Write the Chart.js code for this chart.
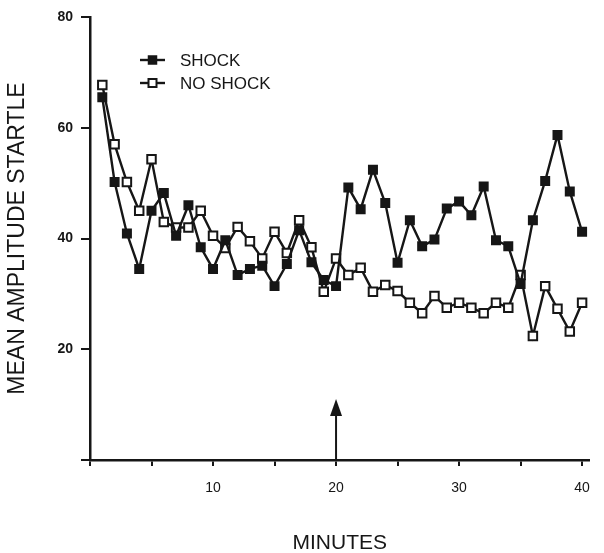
<!DOCTYPE html>
<html lang="en">
  <head>
    <meta charset="UTF-8" />
    <meta name="viewport" content="width=device-width, initial-scale=1.0" />
    <title>Mean amplitude startle by minute</title>
    <script src="https://cdn.jsdelivr.net/npm/chart.js@4"></script>
    <style>
      body { margin: 0; background: #fff; }
    </style>
  </head>
  <body>
    <canvas id="myChart" width="604" height="553"></canvas>

    <script>
      // values
      const minutes = [1, 2, 3, 4, 5, 6, 7, 8, 9, 10, 11, 12, 13, 14, 15, 16, 17, 18, 19, 20,
        21, 22, 23, 24, 25, 26, 27, 28, 29, 30, 31, 32, 33, 34, 35, 36, 37, 38, 39, 40];
      const shock = [65.5, 50.2, 40.9, 34.5, 45.0, 48.2, 40.5, 46.0, 38.4, 34.5,
        39.7, 33.4, 34.5, 35.1, 31.4, 35.4, 41.5, 35.7, 32.5, 31.4,
        49.2, 45.3, 52.4, 46.4, 35.6, 43.3, 38.6, 39.8, 45.4, 46.7,
        44.2, 49.4, 39.7, 38.6, 31.8, 43.3, 50.4, 58.7, 48.5, 41.2];
      const noShock = [67.7, 57.0, 50.2, 45.0, 54.3, 43.0, 42.0, 42.0, 45.0, 40.5,
        38.3, 42.1, 39.5, 36.4, 41.2, 37.4, 43.3, 38.4, 30.4, 36.4,
        33.4, 34.7, 30.4, 31.6, 30.5, 28.4, 26.5, 29.6, 27.5, 28.4,
        27.5, 26.5, 28.4, 27.5, 33.4, 22.4, 31.4, 27.3, 23.2, 28.4];
      const xTickValues = [0, 5, 10, 15, 20, 25, 30, 35, 40];
      const xLabelled = [10, 20, 30, 40];
      const yTickValues = [0, 20, 40, 60, 80];
      const arrowMinute = 20;
      const arrowTop = 11;

      const ink = '#161616';
      const fontFamily = '"Liberation Sans", Arial, Helvetica, sans-serif';

      const legendBox = {
        id: 'legendBox',
        afterDraw(chart) {
          const { ctx, chartArea } = chart;
          const x0 = chartArea.left + 50;
          const y0 = chartArea.top + 43;
          chart.data.datasets.forEach((ds, i) => {
            const y = y0 + i * 23;
            ctx.save();
            ctx.strokeStyle = ds.borderColor;
            ctx.lineWidth = ds.borderWidth;
            ctx.beginPath();
            ctx.moveTo(x0, y);
            ctx.lineTo(x0 + 25, y);
            ctx.stroke();
            ctx.fillStyle = ds.pointBackgroundColor;
            ctx.lineWidth = ds.pointBorderWidth;
            ctx.fillRect(x0 + 8.5, y - 4, 8, 8);
            ctx.strokeRect(x0 + 8.5, y - 4, 8, 8);
            ctx.fillStyle = ink;
            ctx.font = '17px ' + fontFamily;
            ctx.textBaseline = 'middle';
            ctx.fillText(ds.label, x0 + 40, y + 1);
            ctx.restore();
          });
        }
      };

      const onsetArrow = {
        id: 'onsetArrow',
        afterDatasetsDraw(chart) {
          const { ctx, scales } = chart;
          const x = scales.x.getPixelForValue(arrowMinute);
          const yBase = scales.y.getPixelForValue(0);
          const yTip = scales.y.getPixelForValue(arrowTop);
          ctx.save();
          ctx.strokeStyle = ink;
          ctx.fillStyle = ink;
          ctx.lineWidth = 2;
          ctx.beginPath();
          ctx.moveTo(x, yBase);
          ctx.lineTo(x, yTip + 12);
          ctx.stroke();
          ctx.beginPath();
          ctx.moveTo(x, yTip);
          ctx.lineTo(x - 6, yTip + 17);
          ctx.lineTo(x + 6, yTip + 17);
          ctx.closePath();
          ctx.fill();
          ctx.restore();
        }
      };

      window.addEventListener('load', setup);

      function setup() {
        const ctx = document.getElementById('myChart').getContext('2d');
        const myChart = new Chart(ctx, {
          type: 'line',
          data: {
            datasets: [
              {
                label: 'SHOCK',
                data: minutes.map((m, i) => ({ x: m, y: shock[i] })),
                borderColor: ink,
                borderWidth: 2.4,
                pointStyle: 'rect',
                pointRadius: 6,
                pointBackgroundColor: ink,
                pointBorderColor: ink,
                pointBorderWidth: 1.5,
                tension: 0,
                fill: false
              },
              {
                label: 'NO SHOCK',
                data: minutes.map((m, i) => ({ x: m, y: noShock[i] })),
                borderColor: ink,
                borderWidth: 2.4,
                pointStyle: 'rect',
                pointRadius: 6,
                pointBackgroundColor: '#fff',
                pointBorderColor: ink,
                pointBorderWidth: 2,
                tension: 0,
                fill: false
              }
            ]
          },
          options: {
            responsive: false,
            animation: false,
            layout: { padding: { top: 17, right: 0, bottom: 0, left: 0 } },
            plugins: {
              legend: { display: false },
              tooltip: { enabled: false }
            },
            scales: {
              x: {
                type: 'linear',
                min: 0,
                max: 40.6,
                afterBuildTicks: axis => {
                  axis.ticks = xTickValues.map(v => ({ value: v }));
                },
                afterFit: axis => { axis.height = 93; },
                ticks: {
                  autoSkip: false,
                  maxRotation: 0,
                  padding: 14,
                  color: ink,
                  font: { family: fontFamily, size: 14 },
                  callback: v => (xLabelled.includes(v) ? String(v) : '')
                },
                grid: { drawOnChartArea: false, tickLength: 6, lineWidth: 2, color: ink },
                border: { display: true, width: 2.5, color: ink },
                title: {
                  display: true,
                  text: 'MINUTES',
                  color: ink,
                  font: { family: fontFamily, size: 21, lineHeight: 0.9 },
                  padding: { top: 0, bottom: 0 }
                }
              },
              y: {
                min: 0,
                max: 80,
                afterBuildTicks: axis => {
                  axis.ticks = yTickValues.map(v => ({ value: v }));
                },
                afterFit: axis => { axis.width = 90; },
                ticks: {
                  padding: 8,
                  color: ink,
                  font: { family: fontFamily, size: 14, weight: 'bold' },
                  callback: v => (v === 0 ? '' : String(v))
                },
                grid: { drawOnChartArea: false, tickLength: 9, lineWidth: 2, color: ink },
                border: { display: true, width: 2.5, color: ink },
                title: {
                  display: true,
                  text: 'MEAN AMPLITUDE STARTLE',
                  color: ink,
                  font: { family: fontFamily, size: 23 },
                  padding: { top: 4, bottom: 0 }
                }
              }
            }
          },
          plugins: [legendBox, onsetArrow]
        });
      }
    </script>
  </body>
</html>
